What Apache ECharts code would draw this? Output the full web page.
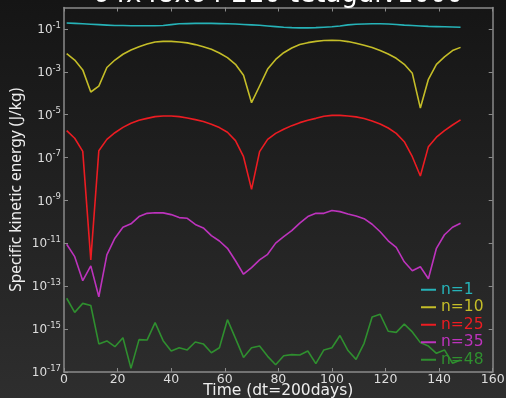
<!DOCTYPE html>
<html>
<head>
<meta charset="utf-8">
<script src="https://cdn.jsdelivr.net/npm/echarts@6/dist/echarts.min.js"></script>
<style>
html,body{margin:0;padding:0;background:#1e1e1e;}
#c{width:506px;height:398px;}
</style>
</head>
<body>
<div id="c"></div>
<script>
// Time values (dt = 200 days)
const time = [1,4,7,10,13,16,19,22,25,28,31,34,37,40,43,46,49,52,55,58,61,64,67,70,73,76,79,82,85,88,91,94,97,100,103,106,109,112,115,118,121,124,127,130,133,136,139,142,145,148];

// Specific kinetic energy, stored as log10(J/kg)
const n1_log10 = [-0.72,-0.74,-0.76,-0.78,-0.80,-0.82,-0.84,-0.84,-0.85,-0.85,-0.85,-0.85,-0.84,-0.80,-0.76,-0.75,-0.74,-0.74,-0.74,-0.75,-0.76,-0.77,-0.79,-0.81,-0.83,-0.86,-0.89,-0.92,-0.94,-0.95,-0.95,-0.94,-0.92,-0.90,-0.86,-0.81,-0.78,-0.77,-0.76,-0.76,-0.77,-0.79,-0.82,-0.84,-0.86,-0.88,-0.89,-0.90,-0.91,-0.92];
const n10_log10 = [-2.15,-2.45,-2.91,-3.94,-3.67,-2.80,-2.45,-2.18,-1.98,-1.83,-1.70,-1.61,-1.58,-1.58,-1.61,-1.65,-1.73,-1.83,-1.95,-2.12,-2.34,-2.65,-3.16,-4.44,-3.66,-2.87,-2.42,-2.11,-1.89,-1.73,-1.64,-1.58,-1.54,-1.53,-1.54,-1.59,-1.67,-1.76,-1.87,-2.01,-2.17,-2.37,-2.65,-3.07,-4.69,-3.35,-2.65,-2.30,-2.01,-1.86];
const n25_log10 = [-5.74,-6.10,-6.71,-11.77,-6.68,-6.15,-5.84,-5.59,-5.40,-5.26,-5.17,-5.09,-5.06,-5.06,-5.09,-5.15,-5.23,-5.32,-5.44,-5.60,-5.82,-6.21,-6.96,-8.48,-6.72,-6.15,-5.87,-5.68,-5.51,-5.37,-5.26,-5.17,-5.07,-5.03,-5.03,-5.06,-5.10,-5.18,-5.29,-5.43,-5.62,-5.87,-6.26,-6.96,-7.86,-6.49,-6.05,-5.74,-5.48,-5.24];
const n35_log10 = [-11.04,-11.62,-12.74,-12.05,-13.49,-11.54,-10.76,-10.25,-10.09,-9.75,-9.60,-9.57,-9.58,-9.66,-9.80,-9.83,-10.12,-10.28,-10.64,-10.89,-11.23,-11.81,-12.44,-12.13,-11.77,-11.51,-10.99,-10.69,-10.41,-10.06,-9.75,-9.60,-9.60,-9.47,-9.52,-9.63,-9.72,-9.85,-10.11,-10.46,-10.88,-11.19,-11.86,-12.28,-12.09,-12.65,-11.23,-10.60,-10.25,-10.06];
const n48_log10 = [-13.56,-14.22,-13.80,-13.90,-15.69,-15.55,-15.82,-15.40,-16.83,-15.49,-15.51,-14.70,-15.54,-16.02,-15.87,-15.97,-15.60,-15.69,-16.10,-15.87,-14.56,-15.43,-16.32,-15.87,-15.79,-16.27,-16.66,-16.24,-16.19,-16.21,-16.02,-16.61,-15.97,-15.87,-15.30,-16.00,-16.41,-15.66,-14.43,-14.31,-15.10,-15.15,-14.77,-15.13,-15.63,-15.79,-16.13,-15.97,-16.59,-16.44];

const seriesNames = ['n=1','n=10','n=25','n=35','n=48'];
const seriesColors = ['#26b3b8','#c4bd28','#ec1c22','#bd33bd','#2f8f2f'];
const seriesLogs = [n1_log10, n10_log10, n25_log10, n35_log10, n48_log10];

// Tick labels (decades) and x ticks
const yTickValues = [1e-17,1e-15,1e-13,1e-11,1e-9,1e-7,1e-5,1e-3,1e-1];
const xTicks = [0,20,40,60,80,100,120,140,160];

const titleText = '64x48x64 210 tetagdiv1000';
const xName = 'Time (dt=200days)';
const yName = 'Specific kinetic energy (J/kg)';

const chart = echarts.init(document.getElementById('c'), null, {renderer:'canvas'});
const frameColor = '#8a8a8a';
const labelColor = '#dddddd';

const series = seriesNames.map((nm, i) => ({
  name: nm,
  type: 'line',
  xAxisIndex: 0, yAxisIndex: 0,
  data: time.map((t, j) => [t, Math.pow(10, seriesLogs[i][j])]),
  showSymbol: false,
  symbol: 'none',
  lineStyle: {width: 1.6, color: seriesColors[i]},
  itemStyle: {color: seriesColors[i]},
  animation: false,
  z: 2 + (4 - i)
}));

const yLabelFmt = v => {
  const e = Math.round(Math.log10(v));
  return '{b|10}{s|' + e + '}';
};

const option = {
  animation: false,
  backgroundColor: {
    type: 'linear', x: 0, y: 0, x2: 0, y2: 1,
    colorStops: [{offset: 0, color: '#151515'}, {offset: 1, color: '#2e2e2e'}]
  },
  grid: {left: 64, right: 13.3, top: 7.5, bottom: 26, containLabel: false, outerBoundsMode: 'none'},
  graphic: [{
    type: 'text', x: 278, y: -5, z: 10,
    style: {text: titleText, fill: '#ffffff', font: '26px "DejaVu Sans"', textAlign: 'center', textVerticalAlign: 'middle'}
  }],
  legend: {
    orient: 'vertical', left: 416, top: 276,
    itemWidth: 15, itemHeight: 2, itemGap: 0, icon: 'rect',
    textStyle: {fontFamily: 'DejaVu Sans', fontSize: 15.5, lineHeight: 17.5},
    data: seriesNames.map((nm, i) => ({name: nm, textStyle: {color: seriesColors[i]}}))
  },
  xAxis: [{
    type: 'value', min: 0, max: 160, interval: 20, position: 'bottom',
    name: xName, nameLocation: 'middle', nameGap: 11, nameMoveOverlap: false,
    nameTextStyle: {color: '#eeeeee', fontFamily: 'DejaVu Sans', fontSize: 15.5},
    axisLine: {show: true, onZero: false, lineStyle: {color: frameColor, width: 1.5}},
    axisTick: {show: true, inside: true, length: 4, lineStyle: {color: frameColor}},
    axisLabel: {color: labelColor, fontFamily: 'DejaVu Sans', fontSize: 12.5, margin: 1,
      customValues: xTicks},
    splitLine: {show: false}
  }, {
    type: 'value', min: 0, max: 160, interval: 20, position: 'top',
    axisLine: {show: true, onZero: false, lineStyle: {color: frameColor, width: 1.5}},
    axisTick: {show: true, inside: true, length: 4, lineStyle: {color: frameColor}},
    axisLabel: {show: false},
    splitLine: {show: false}
  }],
  yAxis: [{
    type: 'log', logBase: 10, min: 1e-17, max: 1, position: 'left',
    name: yName, nameLocation: 'middle', nameGap: 39, nameRotate: 90, nameMoveOverlap: false,
    nameTextStyle: {color: '#eeeeee', fontFamily: 'Noto Sans', fontSize: 15.5},
    axisLine: {show: true, onZero: false, lineStyle: {color: frameColor, width: 1.5}},
    axisTick: {show: true, inside: true, length: 4, lineStyle: {color: frameColor}, customValues: yTickValues},
    axisLabel: {
      color: labelColor, margin: 3, formatter: yLabelFmt, customValues: yTickValues,
      rich: {
        b: {fontFamily: 'DejaVu Sans', fontSize: 12, color: labelColor, verticalAlign: 'bottom', lineHeight: 14},
        s: {fontFamily: 'DejaVu Sans', fontSize: 8.5, color: labelColor, verticalAlign: 'bottom', lineHeight: 14, padding: [0,0,6,0]}
      }
    },
    splitLine: {show: false},
    minorTick: {show: false}
  }, {
    type: 'log', logBase: 10, min: 1e-17, max: 1, position: 'right',
    axisLine: {show: true, onZero: false, lineStyle: {color: frameColor, width: 1.5}},
    axisTick: {show: true, inside: true, length: 4, lineStyle: {color: frameColor}, customValues: yTickValues},
    axisLabel: {show: false, customValues: yTickValues},
    splitLine: {show: false}
  }],
  series: series
};
chart.setOption(option);
</script>
</body>
</html>
